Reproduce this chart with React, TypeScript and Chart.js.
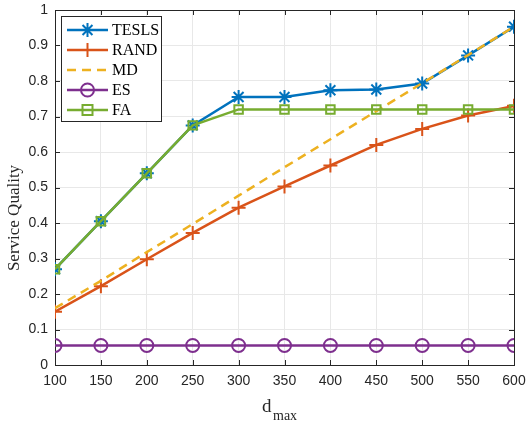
import React, { useEffect, useRef } from "react";
import { Chart, registerables } from "chart.js";
Chart.register(...registerables);

const dmax = [100, 150, 200, 250, 300, 350, 400, 450, 500, 550, 600];
const tesls = [0.27, 0.405, 0.54, 0.675, 0.755, 0.755, 0.774, 0.776, 0.793, 0.872, 0.953];
const rand = [0.15, 0.222, 0.298, 0.372, 0.443, 0.503, 0.562, 0.62, 0.665, 0.703, 0.73];
const md = [0.16, 0.237, 0.318, 0.397, 0.477, 0.557, 0.636, 0.715, 0.794, 0.873, 0.953];
const es = [0.055, 0.055, 0.055, 0.055, 0.055, 0.055, 0.055, 0.055, 0.055, 0.055, 0.055];
const fa = [0.27, 0.405, 0.54, 0.675, 0.72, 0.72, 0.72, 0.72, 0.72, 0.72, 0.72];
const seriesNames = ["TESLS", "RAND", "MD", "ES", "FA"];
const colors = ["#0072BD", "#D95319", "#EDB120", "#7E2F8E", "#77AC30"];

function pts(ys: number[]) {
  return dmax.map((x, i) => ({ x, y: ys[i] }));
}

function drawMarker(ctx: CanvasRenderingContext2D, kind: string, x: number, y: number, color: string) {
  ctx.save();
  ctx.strokeStyle = color;
  ctx.lineWidth = 2;
  ctx.beginPath();
  if (kind === "star") {
    const r = 7;
    const d = r * Math.SQRT1_2;
    ctx.moveTo(x - r, y); ctx.lineTo(x + r, y);
    ctx.moveTo(x, y - r); ctx.lineTo(x, y + r);
    ctx.moveTo(x - d, y - d); ctx.lineTo(x + d, y + d);
    ctx.moveTo(x - d, y + d); ctx.lineTo(x + d, y - d);
  } else if (kind === "cross") {
    ctx.moveTo(x - 7, y); ctx.lineTo(x + 7, y);
    ctx.moveTo(x, y - 7); ctx.lineTo(x, y + 7);
  } else if (kind === "circle") {
    ctx.arc(x, y, 6.5, 0, Math.PI * 2);
  } else if (kind === "rect") {
    ctx.rect(x - 5, y - 5, 10, 10);
  }
  ctx.stroke();
  ctx.restore();
}

const markerKinds = ["star", "cross", "", "circle", "rect"];

const decorPlugin = {
  id: "decor",
  beforeDatasetsDraw(chart: any) {
    const { ctx, chartArea: a } = chart;
    ctx.save();
    ctx.strokeStyle = "#262626";
    ctx.lineWidth = 1;
    ctx.strokeRect(a.left + 0.5, a.top + 0.5, a.right - a.left, a.bottom - a.top);
    const xs = chart.scales.x;
    const ys = chart.scales.y;
    ctx.beginPath();
    xs.ticks.forEach((t: any) => {
      const px = Math.round(xs.getPixelForValue(t.value)) + 0.5;
      ctx.moveTo(px, a.bottom);
      ctx.lineTo(px, a.bottom - 5);
      ctx.moveTo(px, a.top);
      ctx.lineTo(px, a.top + 5);
    });
    ys.ticks.forEach((t: any) => {
      const py = Math.round(ys.getPixelForValue(t.value)) + 0.5;
      ctx.moveTo(a.left, py);
      ctx.lineTo(a.left + 5, py);
      ctx.moveTo(a.right, py);
      ctx.lineTo(a.right - 5, py);
    });
    ctx.stroke();
    ctx.restore();
  },
  afterDraw(chart: any) {
    const { ctx } = chart;
    ctx.save();
    ctx.fillStyle = "#262626";
    ctx.font = "17px 'Liberation Serif', serif";
    ctx.textAlign = "center";
    ctx.textBaseline = "middle";
    ctx.translate(15, 218);
    ctx.rotate(-Math.PI / 2);
    ctx.fillText("Service Quality", 0, 0);
    ctx.restore();
    ctx.save();
    ctx.fillStyle = "#262626";
    ctx.textBaseline = "alphabetic";
    ctx.textAlign = "left";
    ctx.font = "19px 'Liberation Serif', serif";
    ctx.fillText("d", 262, 412);
    ctx.font = "14px 'Liberation Serif', serif";
    ctx.fillText("max", 273, 420);
    ctx.restore();
    ctx.save();
    const L = 61, T = 16, R = 161, B = 121;
    ctx.fillStyle = "#ffffff";
    ctx.fillRect(L, T, R - L, B - T);
    ctx.strokeStyle = "#262626";
    ctx.lineWidth = 1;
    ctx.strokeRect(L + 0.5, T + 0.5, R - L, B - T);
    const rows = [30, 50, 70, 90, 110];
    seriesNames.forEach((name, i) => {
      const y = rows[i];
      ctx.strokeStyle = colors[i];
      ctx.lineWidth = 2.5;
      ctx.setLineDash(i === 2 ? [9, 6] : []);
      ctx.beginPath();
      ctx.moveTo(67, y);
      ctx.lineTo(108, y);
      ctx.stroke();
      ctx.setLineDash([]);
      if (markerKinds[i]) drawMarker(ctx, markerKinds[i], 87.5, y, colors[i]);
      ctx.fillStyle = "#000000";
      ctx.font = "16px 'Liberation Serif', serif";
      ctx.textAlign = "left";
      ctx.textBaseline = "middle";
      ctx.fillText(name, 112, y + 1);
    });
    ctx.restore();
  },
};

export default function App() {
  const ref = useRef<HTMLCanvasElement | null>(null);
  useEffect(() => {
    document.body.style.margin = "0";
    const canvas = ref.current!;
    const mk = (i: number, data: number[], extra: any) => ({
      label: seriesNames[i],
      data: pts(data),
      borderColor: colors[i],
      backgroundColor: "rgba(0,0,0,0)",
      borderWidth: 2.5,
      pointBorderWidth: 2,
      pointBorderColor: colors[i],
      pointBackgroundColor: "rgba(0,0,0,0)",
      tension: 0,
      ...extra,
    });
    const chart = new Chart(canvas, {
      type: "line",
      data: {
        datasets: [
          mk(0, tesls, { pointStyle: "star", pointRadius: 7, order: 4 }),
          mk(1, rand, { pointStyle: "cross", pointRadius: 7, order: 3 }),
          mk(2, md, { pointRadius: 0, borderDash: [9, 6], order: 2 }),
          mk(3, es, { pointStyle: "circle", pointRadius: 6.5, order: 1 }),
          mk(4, fa, { pointStyle: "rect", pointRadius: 6, order: 0 }),
        ],
      },
      options: {
        animation: false,
        responsive: false,
        maintainAspectRatio: false,
        layout: { autoPadding: false, padding: { left: 0, right: 13, top: 10, bottom: 0 } },
        plugins: { legend: { display: false }, tooltip: { enabled: false } },
        scales: {
          x: {
            type: "linear",
            min: 100,
            max: 600,
            ticks: { stepSize: 50, color: "#262626", font: { family: "'Liberation Sans', Arial, sans-serif", size: 14 }, padding: 8, maxRotation: 0 },
            grid: { color: "#e8e8e8", drawTicks: false },
            border: { display: false },
            afterFit: (s: any) => { s.height = 58; s.paddingLeft = 0; s.paddingRight = 0; },
          },
          y: {
            min: 0,
            max: 1,
            ticks: {
              stepSize: 0.1,
              color: "#262626",
              font: { family: "'Liberation Sans', Arial, sans-serif", size: 14 },
              padding: 7,
              callback: (v: any) => String(Math.round(Number(v) * 10) / 10),
            },
            grid: { color: "#e8e8e8", drawTicks: false },
            border: { display: false },
            afterFit: (s: any) => { s.width = 55; s.paddingTop = 0; s.paddingBottom = 0; },
          },
        },
      },
      plugins: [decorPlugin],
    });
    return () => chart.destroy();
  }, []);
  return (
    <div style={{ width: 527, height: 423 }}>
      <canvas ref={ref} width={527} height={423} style={{ display: "block" }} />
    </div>
  );
}
